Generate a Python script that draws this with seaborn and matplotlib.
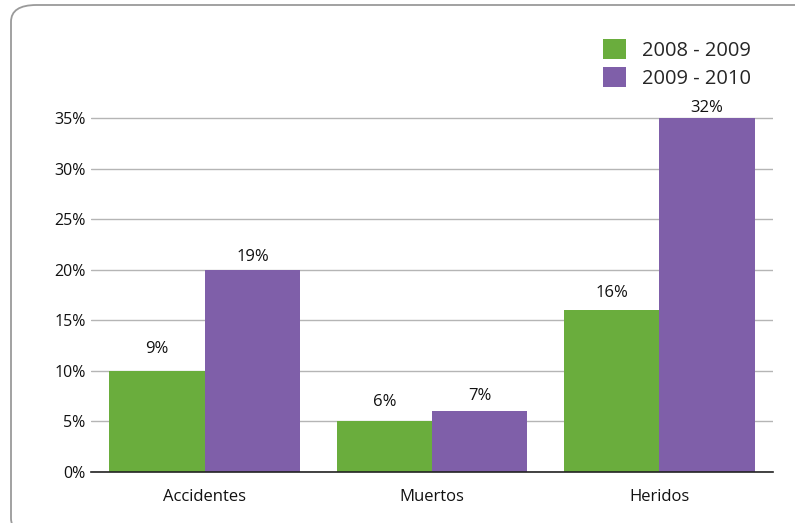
import matplotlib
matplotlib.use("Agg")
import matplotlib.pyplot as plt
import seaborn as sns
import pandas as pd
from matplotlib.patches import FancyBboxPatch, Patch

categories = ["Accidentes", "Muertos", "Heridos"]
series_names = ["2008 - 2009", "2009 - 2010"]
values_2008_2009 = [10, 5, 16]
values_2009_2010 = [20, 6, 35]
labels_2008_2009 = ["9%", "6%", "16%"]
labels_2009_2010 = ["19%", "7%", "32%"]
yticks = [0, 5, 10, 15, 20, 25, 30, 35]
colors = ["#6AAD3D", "#7F5FA9"]

df = pd.DataFrame({
    "cat": categories * 2,
    "serie": [series_names[0]] * 3 + [series_names[1]] * 3,
    "val": values_2008_2009 + values_2009_2010,
})

sns.set_style("white")
plt.rcParams["font.family"] = ["Open Sans", "DejaVu Sans"]

fig = plt.figure(figsize=(7.95, 5.23), dpi=100)
ax = fig.add_axes([91 / 795, 1 - 472 / 523, (773 - 91) / 795, (472 - 118) / 523 * 36 / 35])

sns.barplot(data=df, x="cat", y="val", hue="serie", palette=colors, ax=ax,
            width=0.84, saturation=1, legend=False, edgecolor="none")

ax.set_xlim(-0.5, 2.5)
ax.set_ylim(0, 36)
ax.set_yticks(yticks)
ax.set_yticklabels([f"{t}%" for t in yticks], fontsize=11.5, color="#111111")
ax.tick_params(axis="x", labelsize=12, colors="#111111", length=0, pad=12)
ax.tick_params(axis="y", length=0, pad=4)
ax.set_xlabel("")
ax.set_ylabel("")
ax.yaxis.grid(True, color="#b5b5b5", linewidth=1)
ax.set_axisbelow(True)
for s in ["top", "right", "left"]:
    ax.spines[s].set_visible(False)
ax.spines["bottom"].set_color("#222222")
ax.spines["bottom"].set_linewidth(1.2)

# label offsets (points) above each bar, per series
label_pads = [[10, 8.5, 6.5], [3.5, 5.5, 1.5]]
all_labels = [labels_2008_2009, labels_2009_2010]
for cont, labs, pads in zip(ax.containers, all_labels, label_pads):
    for bar, lab, pad in zip(cont, labs, pads):
        ax.annotate(lab, (bar.get_x() + bar.get_width() / 2, bar.get_height()),
                    xytext=(0, pad), textcoords="offset points",
                    ha="center", va="bottom", fontsize=12, color="#111111")

# legend
handles = [Patch(facecolor=c, edgecolor="none") for c in colors]
fig.legend(handles, series_names, loc="upper left", bbox_to_anchor=(593 / 795, 1 - 29 / 523),
           frameon=False, fontsize=14.5, handlelength=1.15, handleheight=1.15,
           handletextpad=0.8, labelspacing=0.3, borderpad=0)

# rounded border
border = FancyBboxPatch((11 / 795, 1 - 535 / 523), 830 / 795, 530 / 523,
                        boxstyle="round,pad=0,rounding_size=0.032",
                        transform=fig.transFigure, facecolor="none",
                        edgecolor="#9a9a9a", linewidth=1.3, clip_on=False)
fig.patches.append(border)

fig.savefig("out.png", dpi=100)
